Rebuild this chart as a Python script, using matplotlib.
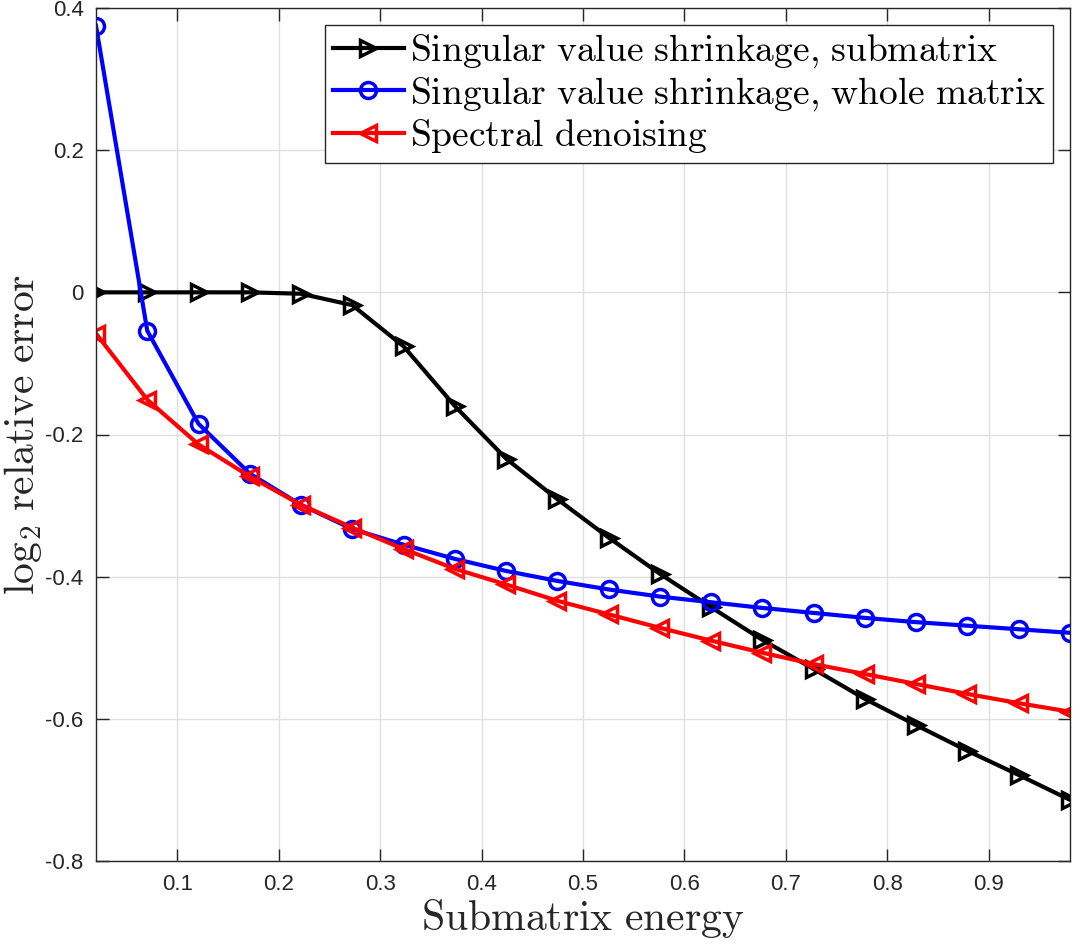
import matplotlib
matplotlib.use('Agg')
import matplotlib.pyplot as plt
import numpy as np

plt.rcParams['font.family'] = 'Liberation Sans'
plt.rcParams['mathtext.fontset'] = 'cm'

# Data
energy = np.linspace(0.02, 0.98, 20)
svs_sub = [0.000, 0.000, 0.000, 0.000, -0.002, -0.018, -0.076, -0.160, -0.234, -0.291,
           -0.345, -0.396, -0.443, -0.489, -0.530, -0.572, -0.609, -0.645, -0.679, -0.714]
svs_whole = [0.375, -0.054, -0.185, -0.255, -0.299, -0.333, -0.355, -0.375, -0.392, -0.406,
             -0.418, -0.428, -0.436, -0.444, -0.451, -0.458, -0.464, -0.469, -0.474, -0.479]
spectral = [-0.058, -0.151, -0.214, -0.259, -0.299, -0.331, -0.361, -0.389, -0.411, -0.434,
            -0.453, -0.472, -0.490, -0.507, -0.523, -0.537, -0.551, -0.565, -0.578, -0.590]

labels = [r'$\mathrm{Singular\ value\ shrinkage{,}\ submatrix}$',
          r'$\mathrm{Singular\ value\ shrinkage{,}\ whole\ matrix}$',
          r'$\mathrm{Spectral\ denoising}$']

fig = plt.figure(figsize=(10.8, 9.44), dpi=100)
ax = fig.add_axes([96/1080, 1 - 861/944, 974/1080, 853/944])

style = dict(linewidth=3, markersize=11.5, markeredgewidth=2.5, markerfacecolor='none')
ax.plot(energy, svs_sub, color='black', marker='>', label=labels[0], **style)
ax.plot(energy, svs_whole, color='#0000ff', marker='o', label=labels[1], **style)
ax.plot(energy, spectral, color='#ff0000', marker='<', label=labels[2], **style)

ax.set_xlim(0.02, 0.98)
ax.set_ylim(-0.8, 0.4)
ax.set_xticks(np.arange(0.1, 0.95, 0.1))
ax.set_xticklabels(['0.1', '0.2', '0.3', '0.4', '0.5', '0.6', '0.7', '0.8', '0.9'])
ax.set_yticks([-0.8, -0.6, -0.4, -0.2, 0, 0.2, 0.4])
ax.set_yticklabels(['-0.8', '-0.6', '-0.4', '-0.2', '0', '0.2', '0.4'])
ax.tick_params(direction='in', top=True, right=True, length=9, width=1,
               labelsize=16, colors='#262626', pad=9)
for s in ax.spines.values():
    s.set_color('#262626')
    s.set_linewidth(1)
ax.grid(True, color='#e0e0e0', linewidth=1)
ax.set_axisbelow(True)

ax.set_xlabel(r'$\mathrm{Submatrix\ energy}$', fontsize=30, color='#262626', labelpad=2)
ax.set_ylabel(r'$\mathrm{log}_2\ \mathrm{relative\ error}$', fontsize=30, color='#262626', labelpad=1)

leg = ax.legend(loc='upper right', fontsize=27, frameon=True, fancybox=False,
                edgecolor='#262626', framealpha=1, handlelength=1.9, handletextpad=0.15,
                borderpad=0.2, labelspacing=0.12, borderaxespad=0.45)
leg.get_frame().set_linewidth(1)

plt.savefig('out.png', dpi=100)
